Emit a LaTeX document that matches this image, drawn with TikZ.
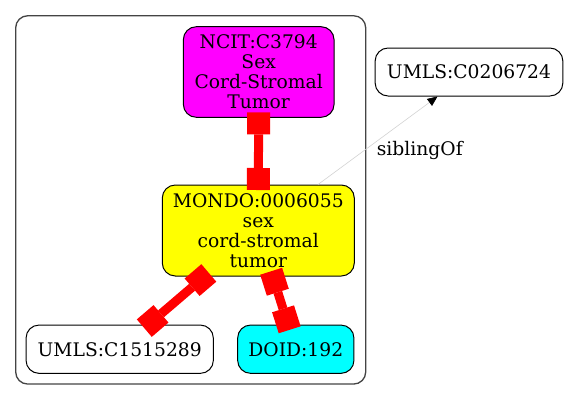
\documentclass[tikz,border=0pt]{standalone}
\usepackage{fontspec}
\setmainfont{DejaVu Serif}
\usetikzlibrary{arrows.meta,calc}
\definecolor{clustergray}{HTML}{444444}
\definecolor{sibgray}{HTML}{D3D3D3}
\definecolor{gvmagenta}{HTML}{FF00FF}
\definecolor{gvyellow}{HTML}{FFFF00}
\definecolor{gvcyan}{HTML}{00FFFF}
\definecolor{gvred}{HTML}{FF0000}
\tikzset{
  box/.style={draw=black, line width=1pt, rounded corners=13pt, inner sep=0pt,
    align=center, font=\fontsize{18.7}{20}\selectfont},
  cluster/.style={draw=clustergray, line width=1.3pt, rounded corners=12pt, inner sep=0pt},
  teeedge/.style={draw=gvred, line width=9pt,
    {Rectangle[length=22pt 0 0, width=23pt 0 0, line width=0pt 0 0]}-{Rectangle[length=22pt 0 0, width=23pt 0 0, line width=0pt 0 0]},
    shorten <=-5.5pt, shorten >=-5.5pt},
  sibedge/.style={draw=sibgray, line width=0.6pt,
    -{Triangle[length=10pt 0 0, width=8.5pt 0 0, color=black]}},
  lbl/.style={inner sep=0pt, font=\fontsize{18.7}{20}\selectfont}
}
\begin{document}
\begin{tikzpicture}[x=1pt, y=-1pt]
\useasboundingbox (0,0) rectangle (568,400);
\fill[white] (0,0) rectangle (568,400);
\node[cluster, minimum width=350pt, minimum height=368.3pt] (clu) at (190.7,199.9) {};
\node[box, fill=gvmagenta, minimum width=150.7pt, minimum height=90.6pt] (ncit) at (258.7,72) {NCIT:C3794\\Sex\\Cord-Stromal\\Tumor};
\node[box, fill=gvyellow, minimum width=192pt, minimum height=91pt] (mondo) at (258.3,230.5) {MONDO:0006055\\sex\\cord-stromal\\tumor};
\node[box, fill=white, minimum width=187.3pt, minimum height=48.3pt] (umlsa) at (119.7,349.2) {UMLS:C1515289};
\node[box, fill=gvcyan, minimum width=116.3pt, minimum height=48.3pt] (doid) at (295.8,349.2) {DOID:192};
\node[box, fill=white, minimum width=187.7pt, minimum height=48pt] (umlsb) at (469,72) {UMLS:C0206724};
\draw[sibedge] ([xshift=59.7pt]mondo.north) -- ([xshift=-31.5pt]umlsb.south);
\node[lbl, anchor=base west] (sib) at (376.7,155) {siblingOf};
\draw[teeedge] (ncit) -- (mondo);
\draw[teeedge] (mondo) -- (umlsa);
\draw[teeedge] (mondo) -- (doid);
\end{tikzpicture}
\end{document}
